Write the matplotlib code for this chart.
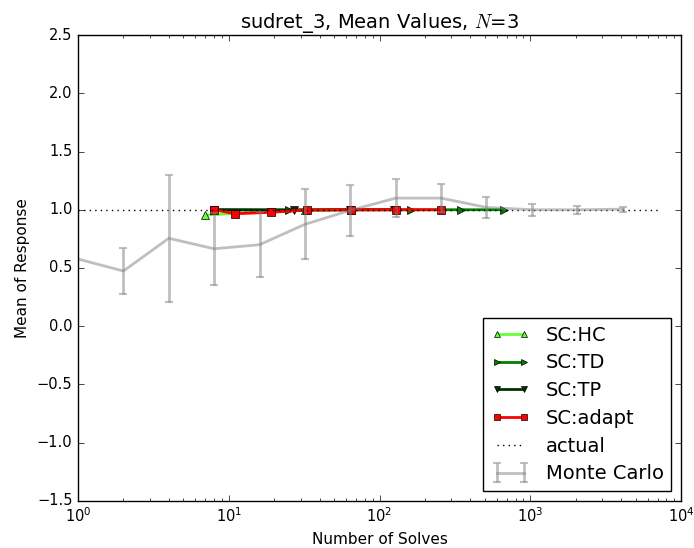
import matplotlib
matplotlib.use("Agg")
import matplotlib.pyplot as plt
import numpy as np

plt.style.use("classic")
plt.rcParams["font.family"] = ["DejaVu Sans"]

# Monte Carlo (single-sample point has no spread)
mc_n = [1, 2, 4, 8, 16, 32, 64, 128, 256, 512, 1024, 2048, 4096]
mc_mean = [0.577, 0.474, 0.755, 0.665, 0.70, 0.875, 0.995, 1.10, 1.10, 1.02, 1.00, 1.00, 1.005]
mc_err = [np.nan, 0.197, 0.545, 0.31, 0.28, 0.30, 0.22, 0.165, 0.12, 0.09, 0.05, 0.035, 0.02]

# Stochastic collocation variants
hc_n = [7, 32, 65]
hc_mean = [0.955, 0.997, 1.0]
td_n = [8, 25, 66, 161, 346, 670]
td_mean = [1.0, 0.998, 1.0, 1.0, 1.0, 1.0]
tp_n = [8, 27, 64, 125]
tp_mean = [1.0, 0.998, 1.0, 1.0]
ad_n = [8, 11, 19, 33, 65, 129, 257]
ad_mean = [1.0, 0.966, 0.978, 0.998, 1.0, 1.0, 1.0]
actual = 1.0

fig = plt.figure(figsize=(6.94, 5.48), dpi=100, facecolor="white")
ax = fig.add_axes([0.1124, 0.0858, 0.8689, 0.8503])
ax.set_facecolor("white")

ax.plot(hc_n, hc_mean, "-^", color="#66ff33", mec="k", lw=2, ms=6, label="SC:HC")
ax.plot(td_n, td_mean, "->", color="#008000", mec="k", lw=2, ms=6, label="SC:TD")
ax.plot(tp_n, tp_mean, "-v", color="#003300", mec="k", lw=2, ms=6, label="SC:TP")
ax.plot(ad_n, ad_mean, "-s", color="#ff0000", mec="k", lw=2, ms=6, label="SC:adapt")
ax.plot([1, 7000], [actual, actual], "k:", lw=1, label="actual")
ax.errorbar(mc_n, mc_mean, yerr=mc_err, color="gray", alpha=0.5, lw=2,
            capsize=3, mew=1.5, label="Monte Carlo")

ax.set_xscale("log")
ax.set_xlim(1, 1e4)
ax.set_ylim(-1.5, 2.5)
ax.set_yticks(np.arange(-1.5, 2.51, 0.5))
ax.set_xlabel("Number of Solves", fontsize=11)
ax.set_ylabel("Mean of Response", fontsize=11)
ax.set_title("sudret_3, Mean Values, $N$=3", fontsize=14)
ax.tick_params(labelsize=10.5)

leg = ax.legend(loc="lower right", fontsize=14, numpoints=2, labelspacing=0.45,
                markerscale=0.8, handlelength=2.0, handletextpad=0.8, borderpad=0.4)
leg.get_frame().set_linewidth(1)

fig.savefig("out.png", dpi=100, facecolor="white")
